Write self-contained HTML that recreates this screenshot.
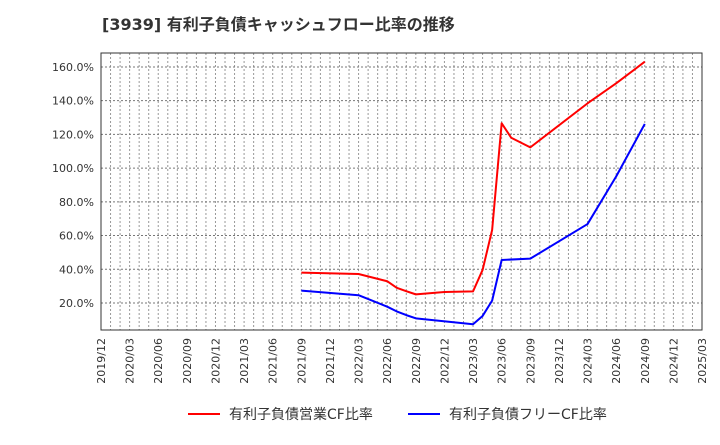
<!DOCTYPE html>
<html><head><meta charset="utf-8">
<style>
body{margin:0;background:#fff;}
svg text{font-family:"DejaVu Sans","Noto Sans CJK JP",sans-serif;}
</style></head>
<body>
<svg id="chart" width="720" height="440" xmlns="http://www.w3.org/2000/svg">
<text x="102" y="30" font-size="16" font-weight="bold" fill="#333">[3939]  有利子負債キャッシュフロー比率の推移</text>
<g id="grid"></g>
<g id="axes"></g>
<g id="series"></g>
<g>
<line x1="188" y1="414" x2="220" y2="414" stroke="#ff0000" stroke-width="2"/>
<text x="229" y="419" font-size="14" fill="#333">有利子負債営業CF比率</text>
<line x1="408" y1="414" x2="440" y2="414" stroke="#0000ff" stroke-width="2"/>
<text x="449" y="419" font-size="14" fill="#333">有利子負債フリーCF比率</text>
</g>
</svg>
<script>
const tickLabels=["2019/12","2020/03","2020/06","2020/09","2020/12","2021/03","2021/06","2021/09","2021/12","2022/03","2022/06","2022/09","2022/12","2023/03","2023/06","2023/09","2023/12","2024/03","2024/06","2024/09","2024/12","2025/03"];
const yTicks=[20,40,60,80,100,120,140,160];
// month index from 2019/12
const redMonths=[21,27,30,31,32,33,36,39,40,41,42,43,45,51,54,57];
const redValues=[38.0,37.2,32.9,29.0,27.0,25.1,26.5,26.9,39.6,63.3,126.6,118.0,112.3,138.4,150.3,163.1];
const blueMonths=[21,27,30,31,32,33,39,40,41,42,45,51,54,57];
const blueValues=[27.3,24.6,17.8,15.0,12.8,10.9,7.4,12.3,21.4,45.5,46.3,66.8,95.0,126.2];

const L=101,R=702,T=53,B=330,NM=63;
const x=m=>L+(R-L)*m/NM;
const y=v=>336.7-v*1.686;
const NS="http://www.w3.org/2000/svg";
function mk(tag,attrs,parent){const e=document.createElementNS(NS,tag);for(const k in attrs)e.setAttribute(k,attrs[k]);parent.appendChild(e);return e;}
const grid=document.getElementById('grid'),axes=document.getElementById('axes'),series=document.getElementById('series');
for(let m=1;m<NM;m++){
 const g=mk('line',{x1:x(m),x2:x(m),y1:T,y2:B,stroke:'#999','stroke-dasharray':'2,2','stroke-width':1},grid);
 
 
}
yTicks.forEach(v=>{
 const g=mk('line',{x1:L,x2:R,y1:y(v),y2:y(v),stroke:'#777','stroke-dasharray':'2,2','stroke-width':1},grid);
 
 
 const t=mk('text',{x:94,y:y(v)+4,'font-size':11,'text-anchor':'end',fill:'#333'},axes);
 t.textContent=v.toFixed(1)+'%';
 
 
});
tickLabels.forEach((s,i)=>{
 const xx=x(i*3);
 const t=mk('text',{x:0,y:0,'font-size':11,'text-anchor':'end',fill:'#333',transform:`translate(${xx+4},338) rotate(-90)`},axes);
 t.textContent=s;
 
 
});
const fr=mk('rect',{x:L,y:T,width:R-L,height:B-T,fill:'none',stroke:'#333','stroke-width':1},axes);


function line(ms,vs,col,name){
 const p=mk('polyline',{points:ms.map((m,i)=>x(m)+','+y(vs[i])).join(' '),fill:'none',stroke:col,'stroke-width':2,'stroke-linejoin':'round'},series);
 
 
}
line(redMonths,redValues,'#ff0000','operating-cf-ratio-line');
line(blueMonths,blueValues,'#0000ff','free-cf-ratio-line');
</script>
</body></html>
